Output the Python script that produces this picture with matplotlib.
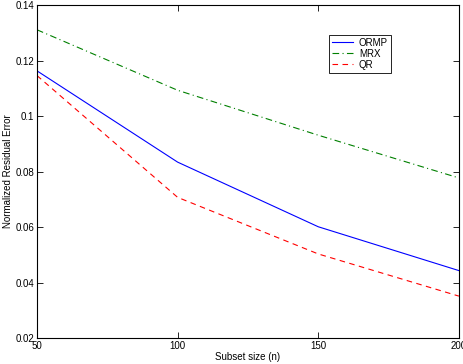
import matplotlib
matplotlib.use('Agg')
import matplotlib.pyplot as plt

# Data
subset_size = [50, 100, 150, 200]
ormp = [0.1163, 0.0834, 0.0601, 0.0443]
mrx = [0.1311, 0.1093, 0.0931, 0.0777]
qr = [0.1146, 0.0707, 0.0503, 0.0351]

plt.rcParams['font.family'] = ['Liberation Sans', 'DejaVu Sans']
plt.rcParams['font.size'] = 7

fig = plt.figure(figsize=(4.64, 3.64), dpi=100)
ax = fig.add_axes([0.0797, 0.0714, 0.9093, 0.9146])

ax.plot(subset_size, ormp, color='#0000ff', linestyle='-', linewidth=0.8, label='ORMP')
ax.plot(subset_size, mrx, color='#008000', linestyle=(0, (6, 3, 1, 3)), linewidth=0.8, label='MRX')
ax.plot(subset_size, qr, color='#ff0000', linestyle=(0, (5, 4)), linewidth=0.8, label='QR')

ax.set_xlim(50, 200)
ax.set_ylim(0.02, 0.14)
ax.set_xticks([50, 100, 150, 200])
ax.set_yticks([0.02, 0.04, 0.06, 0.08, 0.1, 0.12, 0.14])
ax.set_yticklabels(['0.02', '0.04', '0.06', '0.08', '0.1', '0.12', '0.14'])
ax.tick_params(direction='in', length=4, width=0.6, pad=2, top=True, right=True)
for s in ax.spines.values():
    s.set_linewidth(0.8)

ax.set_xlabel('Subset size (n)', labelpad=1)
ax.set_ylabel('Normalized Residual Error')
ax.yaxis.set_label_coords(-0.056, 0.5)

leg = ax.legend(loc='upper left', bbox_to_anchor=(0.68, 0.925), fancybox=False,
                edgecolor='black', framealpha=1, handlelength=2.2,
                borderpad=0.3, labelspacing=0.1, handletextpad=0.6)
leg.get_frame().set_linewidth(0.6)

fig.savefig('out.png', dpi=100)
